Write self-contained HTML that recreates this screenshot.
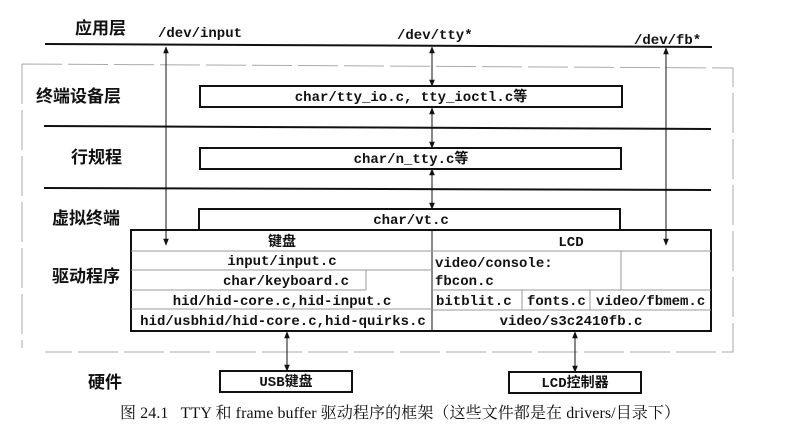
<!DOCTYPE html>
<html><head><meta charset="utf-8"><style>
html,body{margin:0;padding:0;background:#fff;}
svg{display:block;}
.m{font-family:"Liberation Mono","Noto Sans CJK SC",monospace;font-size:14px;font-weight:bold;fill:#111;}
.c{font-family:"Liberation Sans","Noto Sans CJK SC",sans-serif;font-size:17px;font-weight:bold;fill:#111;}
.s{font-family:"Liberation Serif","Noto Serif CJK SC",serif;font-size:16px;fill:#111;white-space:pre;}
</style></head><body>
<svg width="791" height="444" viewBox="0 0 791 444" xmlns="http://www.w3.org/2000/svg">
<defs>
<marker id="a" viewBox="0 0 10 10" refX="9" refY="5" markerWidth="7" markerHeight="7" orient="auto-start-reverse"><path d="M0,1 L10,5 L0,9 z" fill="#111"/></marker>
</defs>
<path d="M22,64 L22,348 M22,64 L733,68 L733,352 L45,352" stroke="#aaa" stroke-width="1" fill="none" stroke-dasharray="40,6"/>
<line x1="45" y1="44" x2="712" y2="47" stroke="#111" stroke-width="2"/>
<line x1="44" y1="126" x2="711" y2="129" stroke="#111" stroke-width="2"/>
<line x1="44" y1="188" x2="711" y2="190" stroke="#111" stroke-width="2"/>
<text class="c" x="75" y="34">应用层</text>
<text class="m" x="158" y="37">/dev/input</text>
<text class="m" x="397" y="39">/dev/tty*</text>
<text class="m" x="634" y="44">/dev/fb*</text>
<text class="c" x="36" y="102">终端设备层</text>
<text class="c" x="71" y="163">行规程</text>
<text class="c" x="52" y="224">虚拟终端</text>
<text class="c" x="52" y="282">驱动程序</text>
<text class="c" x="88" y="388">硬件</text>
<rect x="200" y="86" width="422" height="21" fill="#fff" stroke="#111" stroke-width="2"/>
<text class="m" x="411" y="101" text-anchor="middle">char/tty_io.c, tty_ioctl.c等</text>
<rect x="200" y="148" width="421" height="21" fill="#fff" stroke="#111" stroke-width="2"/>
<text class="m" x="411" y="163" text-anchor="middle">char/n_tty.c等</text>
<rect x="199" y="209" width="421" height="22" fill="#fff" stroke="#111" stroke-width="2"/>
<text class="m" x="411" y="224" text-anchor="middle">char/vt.c</text>
<rect x="131" y="230" width="580" height="101" fill="#fff" stroke="#111" stroke-width="2"/>
<line x1="432" y1="230" x2="432" y2="331" stroke="#111" stroke-width="1"/>
<g stroke="#999" stroke-width="1">
<line x1="131" y1="251" x2="711" y2="251"/>
<line x1="131" y1="270" x2="432" y2="270"/>
<line x1="131" y1="290" x2="366" y2="290"/>
<line x1="366" y1="270" x2="366" y2="290"/>
<line x1="131" y1="309" x2="432" y2="309"/>
<line x1="432" y1="290" x2="711" y2="290"/>
<line x1="432" y1="310" x2="711" y2="310"/>
<line x1="522" y1="290" x2="522" y2="310"/>
<line x1="590" y1="290" x2="590" y2="310"/>
<line x1="621" y1="251" x2="621" y2="290"/>
</g>
<text class="m" x="282" y="246" text-anchor="middle">键盘</text>
<text class="m" x="571" y="246" text-anchor="middle">LCD</text>
<text class="m" x="282" y="265" text-anchor="middle">input/input.c</text>
<text class="m" x="286" y="285" text-anchor="middle">char/keyboard.c</text>
<text class="m" x="282" y="305" text-anchor="middle">hid/hid-core.c,hid-input.c</text>
<text class="m" x="283" y="325" text-anchor="middle">hid/usbhid/hid-core.c,hid-quirks.c</text>
<text class="m" x="435" y="267">video/console:</text>
<text class="m" x="435" y="285">fbcon.c</text>
<text class="m" x="436" y="305">bitblit.c</text>
<text class="m" x="527" y="305">fonts.c</text>
<text class="m" x="596" y="305">video/fbmem.c</text>
<text class="m" x="571" y="325" text-anchor="middle">video/s3c2410fb.c</text>
<g stroke="#111" stroke-width="1" fill="none">
<line x1="166" y1="47" x2="166" y2="245" marker-start="url(#a)" marker-end="url(#a)"/>
<line x1="666" y1="48" x2="666" y2="245" marker-start="url(#a)" marker-end="url(#a)"/>
<line x1="432" y1="47" x2="432" y2="86" marker-start="url(#a)" marker-end="url(#a)"/>
<line x1="432" y1="108" x2="432" y2="148" marker-start="url(#a)" marker-end="url(#a)"/>
<line x1="432" y1="169" x2="432" y2="209" marker-start="url(#a)" marker-end="url(#a)"/>
<line x1="287" y1="332" x2="287" y2="371" marker-start="url(#a)" marker-end="url(#a)"/>
<line x1="575" y1="332" x2="575" y2="372" marker-start="url(#a)" marker-end="url(#a)"/>
</g>
<rect x="220" y="371" width="132" height="21" fill="#fff" stroke="#111" stroke-width="2"/>
<text class="m" x="286" y="386" text-anchor="middle">USB键盘</text>
<rect x="509" y="372" width="132" height="21" fill="#fff" stroke="#111" stroke-width="2"/>
<text class="m" x="575" y="387" text-anchor="middle">LCD控制器</text>
<text class="s" x="120" y="418" textLength="560">图 24.1   TTY 和 frame buffer 驱动程序的框架（这些文件都是在 drivers/目录下）</text>
</svg>
</body></html>
